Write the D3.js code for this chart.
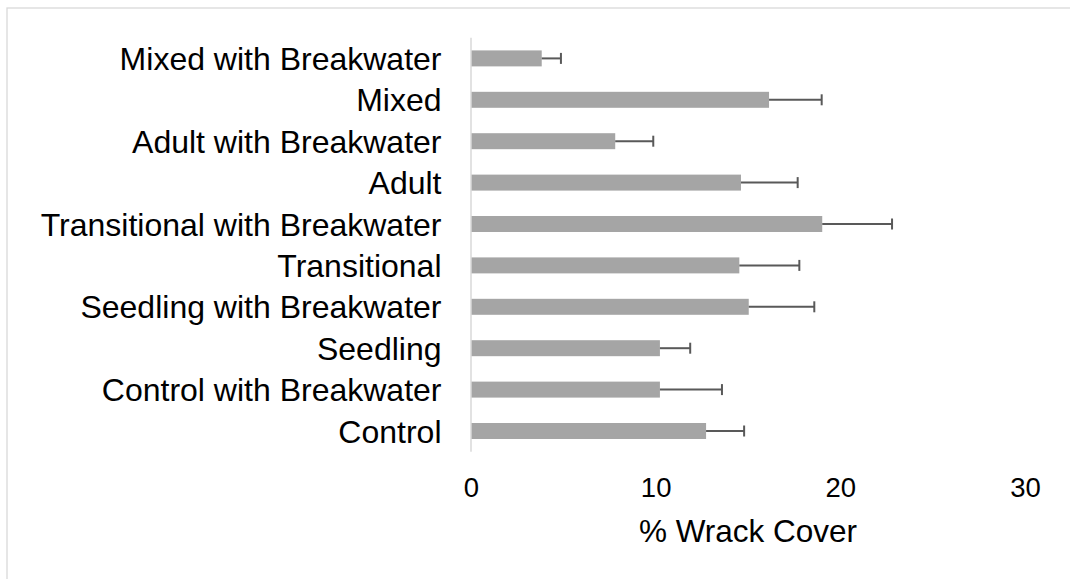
<!DOCTYPE html>
<html>
<head>
<meta charset="utf-8">
<script src="https://cdn.jsdelivr.net/npm/d3@7"></script>
<style>
  html, body { margin: 0; padding: 0; background: #fff; }
  svg { display: block; }
  text { font-family: "Liberation Sans", Arial, sans-serif; fill: #000; }
</style>
</head>
<body>
<svg id="chart" width="1070" height="579"></svg>
<script>
// Categories listed bottom to top as in the chart
const categories = [
  "Control",
  "Control with Breakwater",
  "Seedling",
  "Seedling with Breakwater",
  "Transitional",
  "Transitional with Breakwater",
  "Adult",
  "Adult with Breakwater",
  "Mixed",
  "Mixed with Breakwater"
];
const values = [12.73, 10.23, 10.23, 15.04, 14.53, 19.02, 14.62, 7.81, 16.14, 3.83];
const errors = [2.06, 3.36, 1.64, 3.55, 3.25, 3.78, 3.07, 2.06, 2.85, 1.04];
const xTicks = [0, 10, 20, 30];
const xTitle = "% Wrack Cover";

const svg = d3.select("#chart");

// chart border (only top and left visible in frame)
svg.append("rect")
  .attr("x", 7).attr("y", 8)
  .attr("width", 1070).attr("height", 600)
  .attr("fill", "none")
  .attr("stroke", "#d9d9d9")
  .attr("stroke-width", 1.3);

const plotLeft = 471, plotRight = 1025, plotTop = 37.7, plotBottom = 451.7;

const x = d3.scaleLinear().domain([0, 30]).range([plotLeft, plotRight]);
const y = d3.scaleBand()
  .domain(categories.slice().reverse())
  .range([plotTop, plotBottom])
  .paddingInner(0.614)
  .paddingOuter(0.307);

const data = categories.map((c, i) => ({ c, v: values[i], e: errors[i] }));

// bars
svg.append("g").selectAll("rect")
  .data(data)
  .join("rect")
  .attr("x", x(0))
  .attr("y", d => y(d.c))
  .attr("width", d => x(d.v) - x(0))
  .attr("height", y.bandwidth())
  .attr("fill", "#a5a5a5");

// error bars
const eg = svg.append("g").attr("stroke", "#595959").attr("stroke-width", 2);
eg.selectAll("line.err")
  .data(data)
  .join("line")
  .attr("class", "err")
  .attr("x1", d => x(d.v))
  .attr("x2", d => x(d.v + d.e))
  .attr("y1", d => y(d.c) + y.bandwidth() / 2)
  .attr("y2", d => y(d.c) + y.bandwidth() / 2);
eg.selectAll("line.cap")
  .data(data)
  .join("line")
  .attr("class", "cap")
  .attr("x1", d => x(d.v + d.e))
  .attr("x2", d => x(d.v + d.e))
  .attr("y1", d => y(d.c) + y.bandwidth() / 2 - 5.5)
  .attr("y2", d => y(d.c) + y.bandwidth() / 2 + 5.5);

// y axis
const yAxis = svg.append("g")
  .attr("transform", `translate(${plotLeft},0)`)
  .call(d3.axisLeft(y).tickSize(0).tickPadding(29.5));
yAxis.select(".domain").remove();
yAxis.selectAll("text")
  .attr("font-size", 32)
  .attr("font-family", "'Liberation Sans', Arial, sans-serif")
  .attr("fill", "#000")
  .attr("dy", "0.36em");
svg.append("line")
  .attr("x1", plotLeft).attr("x2", plotLeft)
  .attr("y1", plotTop).attr("y2", plotBottom)
  .attr("stroke", "#d9d9d9")
  .attr("stroke-width", 1.5);

// x axis
const xAxis = svg.append("g")
  .attr("transform", `translate(0,${plotBottom})`)
  .call(d3.axisBottom(x).tickValues(xTicks).tickSize(0).tickFormat(d3.format("d")));
xAxis.select(".domain").remove();
xAxis.selectAll("text")
  .attr("font-size", 27.5)
  .attr("font-family", "'Liberation Sans', Arial, sans-serif")
  .attr("fill", "#000")
  .attr("y", 45)
  .attr("dy", "0");

// x title
svg.append("text")
  .attr("x", (plotLeft + plotRight) / 2)
  .attr("y", 541.7)
  .attr("text-anchor", "middle")
  .attr("font-size", 31.5)
  .text(xTitle);
</script>
</body>
</html>
